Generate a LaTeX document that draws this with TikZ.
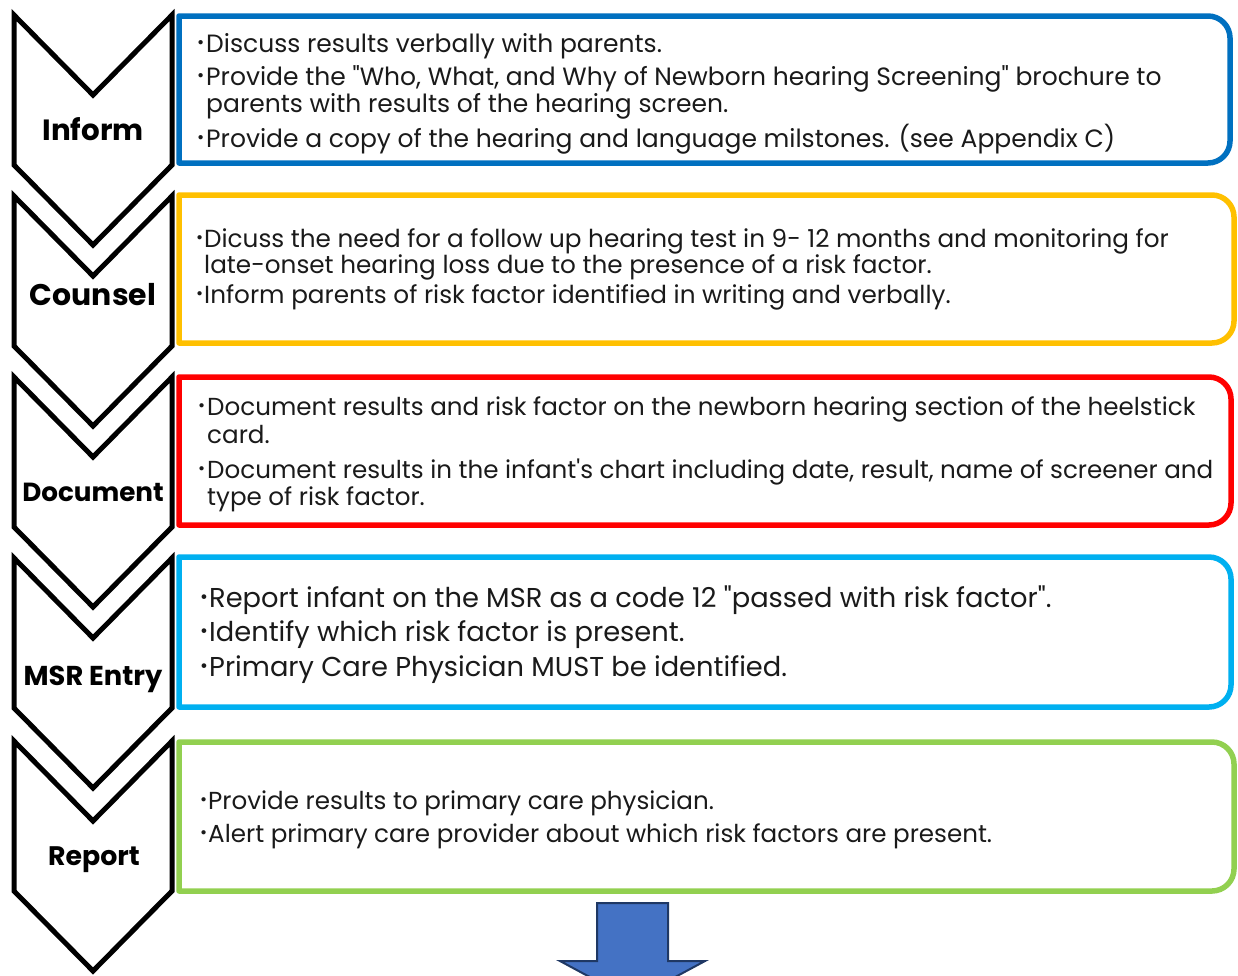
\documentclass[tikz,border=0pt]{standalone}
\usepackage{fontspec}
\setmainfont{Poppins}[Ligatures=TeXOff]
\definecolor{informblue}{HTML}{0070C0}
\definecolor{counselgold}{HTML}{FFC000}
\definecolor{docred}{HTML}{FF0000}
\definecolor{msrcyan}{HTML}{00B0F0}
\definecolor{reportgreen}{HTML}{92D050}
\definecolor{arrowfill}{HTML}{4472C4}
\definecolor{arrowedge}{HTML}{1F3864}
\definecolor{bodytext}{HTML}{1A1A1A}

\tikzset{
  chev/.style={draw=black, line width=5pt, line join=miter},
  boxline/.style={line width=5.5pt, line join=round},
  stagelabel/.style={anchor=base, inner sep=0pt, font=\bfseries\fontsize{#1}{#1}\selectfont},
  txt/.style={anchor=base west, inner sep=0pt, text=bodytext, font=\fontsize{#1}{#1}\selectfont},
  downarrow/.style={fill=arrowfill, draw=arrowedge, line width=2pt, line join=miter},
}
% bullet mark followed by a fixed gap before the item text
\newcommand\bulletmark[1]{\makebox[#1][l]{\raisebox{0.13em}{\scalebox{0.7}{•}}}}
% chevron whose upper corners sit at height #1
\newcommand\chevronshape[1]{%
  \draw[chev] (14,#1) -- (93,{#1+80}) -- (172,#1) -- (172,{#1+150})
    -- (93,{#1+230}) -- (14,{#1+150}) -- cycle;}
% text frame: square left side, rounded right corners; top #1, bottom #2, right #3, colour #4
\newcommand\stageframe[4]{%
  \draw[boxline, draw=#4] (179,#1) -- ({#3-22},#1)
    .. controls ({#3-9.9},#1) and (#3,{#1+9.9}) .. (#3,{#1+22})
    -- (#3,{#2-22})
    .. controls (#3,{#2-9.9}) and ({#3-9.9},#2) .. ({#3-22},#2)
    -- (179,#2) -- cycle;}

\begin{document}
\begin{tikzpicture}[x=1pt, y=-1pt]
\clip (0,0) rectangle (1238,975);
\fill[white] (0,0) rectangle (1238,975);

% coloured frames
\stageframe{16}{163}{1230}{informblue}
\stageframe{195}{343}{1234}{counselgold}
\stageframe{377}{525}{1231}{docred}
\stageframe{557}{707}{1231}{msrcyan}
\stageframe{742}{891}{1234}{reportgreen}

% chevrons
\chevronshape{15}
\chevronshape{196}
\chevronshape{377}
\chevronshape{558}
\chevronshape{741}

% stage names
\node[stagelabel=29.3] (inform)   at (93,140) {Inform};
\node[stagelabel=29.9] (counsel)  at (93,305) {Counsel};
\node[stagelabel=26.2] (document) at (93,501) {Document};
\node[stagelabel=27.3] (msr)      at (93,685) {MSR Entry};
\node[stagelabel=26.8] (report)   at (94,865) {Report};

% Inform
\node[txt=25] (i1)  at (197,52)  {\bulletmark{9pt}Discuss results verbally with parents.};
\node[txt=25] (i2)  at (197,85)  {\bulletmark{9pt}Provide the "Who, What, and Why of Newborn hearing Screening" brochure to};
\node[txt=25] (i2b) at (206,112) {parents with results of the hearing screen.};
\node[txt=25] (i3)  at (197,147) {\bulletmark{9pt}Provide a copy of the hearing and language milstones. (see Appendix C)};

% Counsel
\node[txt=24.7] (c1)  at (196,247) {\bulletmark{8pt}Dicuss the need for a follow up hearing test in 9- 12 months and monitoring for};
\node[txt=24.7] (c1b) at (204,273) {late-onset hearing loss due to the presence of a risk factor.};
\node[txt=24.7] (c2)  at (196,303) {\bulletmark{8pt}Inform parents of risk factor identified in writing and verbally.};

% Document
\node[txt=24.6] (d1)  at (198,415) {\bulletmark{9pt}Document results and risk factor on the newborn hearing section of the heelstick};
\node[txt=24.6] (d1b) at (207,443) {card.};
\node[txt=24.6] (d2)  at (198,478) {\bulletmark{9pt}Document results in the infant's chart including date, result, name of screener and};
\node[txt=24.6] (d2b) at (207,505) {type of risk factor.};

% MSR Entry
\node[txt=27.3] (m1) at (200,607) {\bulletmark{9pt}Report infant on the MSR as a code 12 "passed with risk factor".};
\node[txt=27.3] (m2) at (200,641) {\bulletmark{9pt}Identify which risk factor is present.};
\node[txt=27.3] (m3) at (200,676) {\bulletmark{9pt}Primary Care Physician MUST be identified.};

% Report
\node[txt=24.6] (r1) at (200,809) {\bulletmark{8pt}Provide results to primary care physician.};
\node[txt=24.6] (r2) at (200,842) {\bulletmark{8pt}Alert primary care provider about which risk factors are present.};

% continuation arrow
\draw[downarrow] (597,903) -- (668,903) -- (668,961) -- (705,961)
  -- (632.5,1000) -- (560,961) -- (597,961) -- cycle;
\end{tikzpicture}
\end{document}
